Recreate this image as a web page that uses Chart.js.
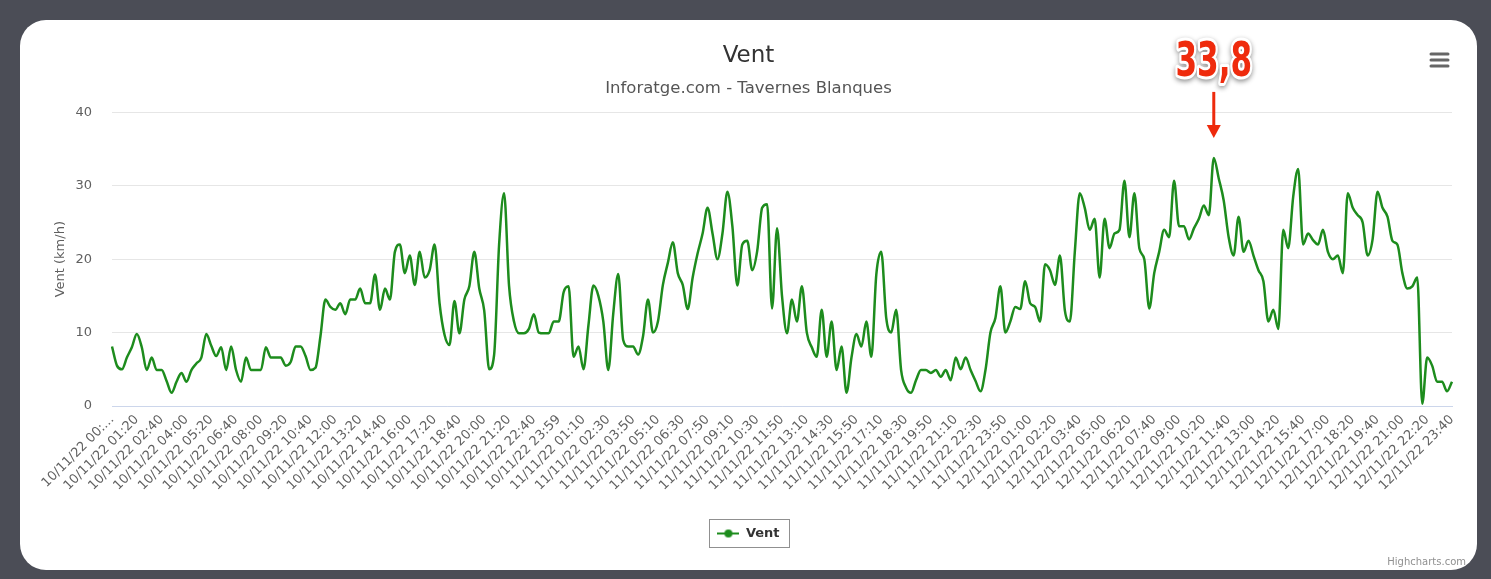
<!DOCTYPE html>
<html>
<head>
<meta charset="utf-8">
<title>Vent</title>
<script src="https://cdn.jsdelivr.net/npm/chart.js@4.4.0/dist/chart.umd.min.js"></script>
<style>
  html, body { margin: 0; padding: 0; }
  body { width: 1491px; height: 579px; background: #4b4d56; position: relative; overflow: hidden; }
  .card { position: absolute; left: 20px; top: 20px; width: 1457px; height: 550px; background: #fff; border-radius: 26px; overflow: hidden; }
  .card canvas { display: block; }
</style>
</head>
<body>
<div class="card"><canvas id="ventChart"></canvas></div>
<script>
// tick labels (one every 5 points)
const tickLabels = [
  '10/11/22 00:...', '10/11/22 01:20', '10/11/22 02:40', '10/11/22 04:00', '10/11/22 05:20',
  '10/11/22 06:40', '10/11/22 08:00', '10/11/22 09:20', '10/11/22 10:40', '10/11/22 12:00',
  '10/11/22 13:20', '10/11/22 14:40', '10/11/22 16:00', '10/11/22 17:20', '10/11/22 18:40',
  '10/11/22 20:00', '10/11/22 21:20', '10/11/22 22:40', '10/11/22 23:59',
  '11/11/22 01:10', '11/11/22 02:30', '11/11/22 03:50', '11/11/22 05:10', '11/11/22 06:30',
  '11/11/22 07:50', '11/11/22 09:10', '11/11/22 10:30', '11/11/22 11:50', '11/11/22 13:10',
  '11/11/22 14:30', '11/11/22 15:50', '11/11/22 17:10', '11/11/22 18:30', '11/11/22 19:50',
  '11/11/22 21:10', '11/11/22 22:30', '11/11/22 23:50',
  '12/11/22 01:00', '12/11/22 02:20', '12/11/22 03:40', '12/11/22 05:00', '12/11/22 06:20',
  '12/11/22 07:40', '12/11/22 09:00', '12/11/22 10:20', '12/11/22 11:40', '12/11/22 13:00',
  '12/11/22 14:20', '12/11/22 15:40', '12/11/22 17:00', '12/11/22 18:20', '12/11/22 19:40',
  '12/11/22 21:00', '12/11/22 22:20', '12/11/22 23:40'
];

// wind speed, km/h
const ventValues = [
  8.1, 5.5, 5.0, 6.6, 8.0, 9.8, 8.0, 4.9, 6.6, 4.9, 4.9, 3.4, 1.8, 3.3, 4.5, 3.3, 4.9, 5.8, 6.6, 9.8,
  8.2, 6.8, 8.0, 4.9, 8.1, 4.9, 3.3, 6.6, 4.9, 4.9, 4.9, 8.0, 6.6,
  6.6, 6.6, 5.5, 6.0, 8.1, 8.1, 6.8, 4.9, 5.2, 9.5, 14.5, 13.5, 13.1, 14.0, 12.5, 14.5, 14.5, 16.0,
  14.0, 14.0, 17.9, 13.1, 16.0, 14.5, 21.0, 22.0, 18.1, 20.5, 16.5, 21.0, 17.5, 18.5, 22.0,
  14.0, 9.7, 8.3, 14.3, 9.9, 14.5, 16.3, 21.0, 16.0, 13.0, 5.0, 7.0, 22.0, 29.0, 16.4, 11.5, 9.9,
  9.9, 10.5, 12.5, 10.0, 9.9, 9.9, 11.5, 11.5, 15.5, 16.3, 6.7, 8.1, 5.0, 11.0, 16.4, 15.0,
  11.5, 4.9, 12.6, 18.0, 9.0, 8.1, 8.1, 7.0, 9.5, 14.5, 10.0, 11.5, 16.5, 19.5, 22.3, 18.1, 16.5,
  13.2, 17.5, 20.8, 23.5, 27.0, 23.5, 20.0, 23.5, 29.2, 24.5, 16.4, 22.0, 22.5, 18.5, 21.1, 27.0,
  27.5, 13.3, 24.2, 15.0, 9.9, 14.5, 11.5, 16.3, 10.0, 8.0, 6.7, 13.1, 6.7, 11.5, 4.9, 8.1, 1.8,
  6.6, 9.8, 8.1, 11.5, 6.7, 17.9, 21.0, 12.0, 10.0, 13.1, 4.9, 2.5, 1.8, 3.5, 4.9, 4.9,
  4.5, 4.9, 4.0, 4.9, 3.5, 6.6, 5.0, 6.6, 4.9, 3.4, 2.0, 4.9, 10.0, 12.0, 16.3, 10.0, 11.5, 13.5,
  13.2, 17.0, 14.0, 13.5, 11.5, 19.3, 18.5, 16.5, 20.5, 13.0, 11.5, 21.0, 29.0, 27.0, 24.0,
  25.5, 17.5, 25.5, 21.5, 23.5, 24.0, 30.7, 23.0, 29.0, 21.5, 20.0, 13.3, 18.1, 21.0, 24.0, 23.0,
  30.7, 24.5, 24.5, 22.7, 24.2, 25.5, 27.3, 26.0, 33.8, 31.0, 28.0, 23.0, 20.5, 25.8, 21.0, 22.5, 20.5,
  18.5, 17.0, 11.5, 13.1, 10.5, 24.0, 21.5, 28.5, 32.3, 22.0, 23.5, 22.6, 22.0, 24.0, 21.0, 20.0,
  20.5, 18.1, 29.0, 27.0, 26.0, 25.0, 20.5, 22.7, 29.2, 27.0, 25.8, 22.5, 22.0, 18.1, 16.0, 16.3,
  17.5, 0.3, 6.6, 5.5, 3.3, 3.3, 2.0, 3.3
];

const yTicks = [0, 10, 20, 30, 40];

const lineColor = '#1d8c1d';
const categories = ventValues.map((v, i) => (i % 5 === 0 ? tickLabels[i / 5] : ''));

Chart.defaults.font.family = '"DejaVu Sans", sans-serif';

// legend symbol: short line with a dot
const legendIcon = document.createElement('canvas');
legendIcon.width = 22;
legendIcon.height = 10;
(() => {
  const c = legendIcon.getContext('2d');
  c.strokeStyle = lineColor;
  c.lineWidth = 2;
  c.beginPath(); c.moveTo(0, 5); c.lineTo(22, 5); c.stroke();
  c.fillStyle = lineColor;
  c.beginPath(); c.arc(11, 5, 4, 0, Math.PI * 2); c.fill();
})();

// red "33,8" callout above the maximum
const peakNote = {
  id: 'peakNote',
  afterDraw(chart) {
    const {ctx, scales: {x, y}} = chart;
    const vals = chart.data.datasets[0].data;
    let idx = 0;
    vals.forEach((v, i) => { if (v > vals[idx]) idx = i; });
    const px = x.getPixelForValue(idx);
    const tipY = y.getPixelForValue(vals[idx]) - 20;
    const tailY = tipY - 46;
    ctx.save();
    ctx.strokeStyle = '#ee2a0c';
    ctx.fillStyle = '#ee2a0c';
    ctx.lineWidth = 3;
    ctx.beginPath(); ctx.moveTo(px, tailY); ctx.lineTo(px, tipY - 10); ctx.stroke();
    ctx.beginPath(); ctx.moveTo(px - 7, tipY - 13); ctx.lineTo(px + 7, tipY - 13); ctx.lineTo(px, tipY); ctx.closePath(); ctx.fill();
    const txt = vals[idx].toFixed(1).replace('.', ',');
    // narrow the glyphs, no condensed bold face installed
    ctx.translate(px, tailY - 28);
    ctx.scale(0.72, 1);
    ctx.font = 'bold 48px "DejaVu Sans Condensed", "DejaVu Sans", sans-serif';
    ctx.textAlign = 'center';
    ctx.textBaseline = 'middle';
    ctx.lineJoin = 'round';
    ctx.shadowColor = 'rgba(0,0,0,0.45)';
    ctx.shadowBlur = 5;
    ctx.shadowOffsetY = 2;
    ctx.lineWidth = 6;
    ctx.strokeStyle = '#fff';
    ctx.strokeText(txt, 0, 0);
    ctx.shadowColor = 'transparent';
    ctx.fillStyle = '#ef2b0d';
    ctx.fillText(txt, 0, 0);
    ctx.restore();
  }
};

// menu icon, credits and legend frame
const extras = {
  id: 'extras',
  afterDraw(chart) {
    const ctx = chart.ctx;
    ctx.save();
    ctx.strokeStyle = '#666';
    ctx.lineWidth = 3;
    ctx.lineCap = 'round';
    [34, 40, 46].forEach(yy => {
      ctx.beginPath(); ctx.moveTo(chart.width - 46, yy); ctx.lineTo(chart.width - 29, yy); ctx.stroke();
    });
    ctx.fillStyle = '#909090';
    ctx.font = '10px "DejaVu Sans", sans-serif';
    ctx.textAlign = 'right';
    ctx.textBaseline = 'middle';
    ctx.fillText('Highcharts.com', chart.width - 11, 542);
    const hb = chart.legend.legendHitBoxes[0];
    if (hb) {
      ctx.strokeStyle = '#909090';
      ctx.lineWidth = 1;
      ctx.strokeRect(Math.round(hb.left - 8) + 0.5, Math.round(hb.top - 8) + 0.5, Math.round(hb.width + 18), Math.round(hb.height + 15));
    }
    ctx.restore();
  }
};

new Chart(document.getElementById('ventChart'), {
  type: 'line',
  data: {
    labels: categories,
    datasets: [{
      label: 'Vent',
      data: ventValues,
      borderColor: lineColor,
      backgroundColor: lineColor,
      borderWidth: 2.5,
      pointRadius: 0,
      fill: false,
      cubicInterpolationMode: 'monotone'
    }]
  },
  options: {
    responsive: true,
    maintainAspectRatio: false,
    animation: false,
    layout: { padding: { left: 25, right: 25, top: 0, bottom: 20 } },
    plugins: {
      title: {
        display: true, text: 'Vent', color: '#333',
        font: { size: 23, weight: 'normal' },
        padding: { top: 22, bottom: 0 }
      },
      subtitle: {
        display: true, text: 'Inforatge.com - Tavernes Blanques', color: '#555',
        font: { size: 16.5 },
        padding: { top: 9, bottom: 14 }
      },
      legend: {
        position: 'bottom',
        labels: {
          usePointStyle: true, pointStyle: legendIcon, pointStyleWidth: 22,
          color: '#333', font: { size: 13, weight: 'bold' }, padding: 10
        }
      },
      tooltip: { enabled: false }
    },
    scales: {
      x: {
        type: 'category',
        grid: { display: false, drawTicks: false },
        border: { color: '#ccd6eb' },
        ticks: {
          autoSkip: false, maxRotation: 45, minRotation: 45, padding: 6,
          color: '#606060', font: { size: 13 },
          callback(val) { const l = this.getLabelForValue(val); return l === '' ? null : l; }
        },
        afterFit(s) { s.height = 111; }
      },
      y: {
        min: 0, max: 40,
        afterBuildTicks(s) { s.ticks = yTicks.map(v => ({ value: v })); },
        grid: { color: '#e6e6e6', drawTicks: false },
        border: { display: false },
        ticks: { padding: 20, color: '#606060', font: { size: 13 } },
        title: { display: true, text: 'Vent (km/h)', color: '#606060', font: { size: 13 }, padding: { top: 8 } },
        afterFit(s) { s.width = 67; }
      }
    }
  },
  plugins: [peakNote, extras]
});
</script>
</body>
</html>
